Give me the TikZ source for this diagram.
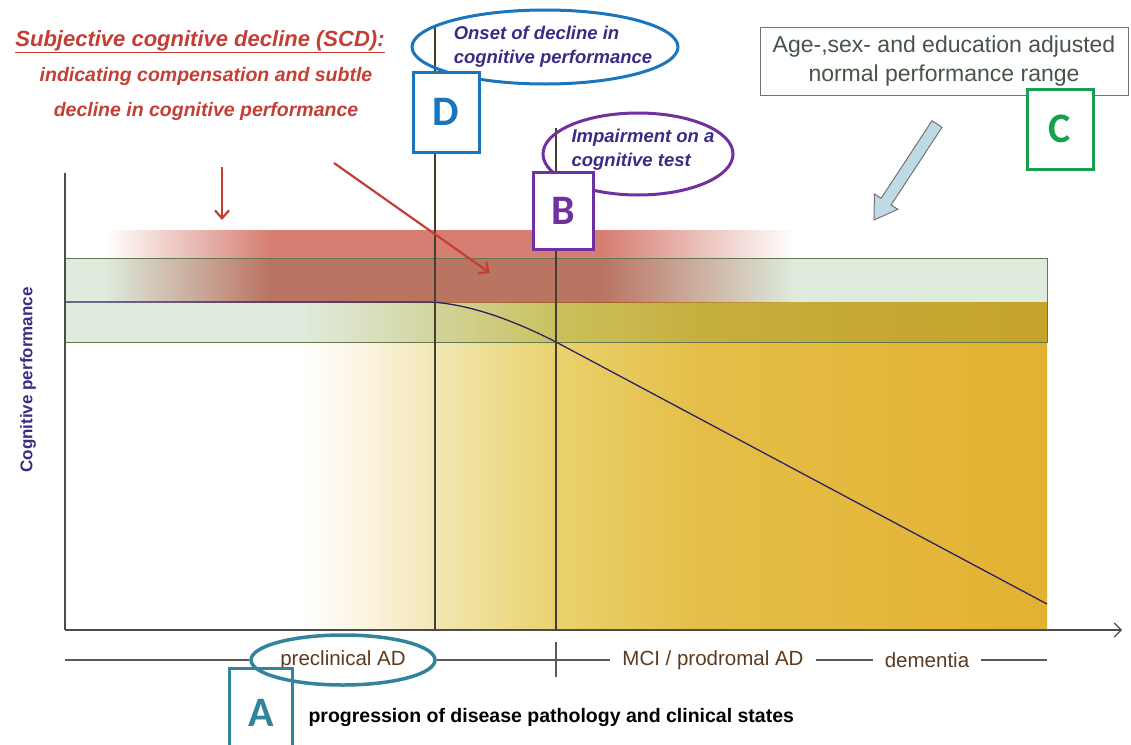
\documentclass[tikz,border=0pt]{standalone}
\usepackage{fontspec}
\setmainfont{Liberation Sans}
\newfontfamily\letterfont{Carlito}
\usetikzlibrary{shapes.geometric,arrows.meta}

\definecolor{scdred}{RGB}{196,62,52}
\definecolor{perfblue}{RGB}{58,44,132}
\definecolor{boxblue}{RGB}{27,117,188}
\definecolor{boxpurple}{RGB}{112,48,160}
\definecolor{boxgreen}{RGB}{22,160,80}
\definecolor{boxteal}{RGB}{49,132,155}
\definecolor{stagebrown}{RGB}{92,58,30}
\definecolor{rangegray}{RGB}{70,85,70}
\definecolor{bandgreen}{RGB}{222,235,221}
\definecolor{bandedge}{RGB}{100,120,80}
\definecolor{redband}{RGB}{214,126,114}
\definecolor{goldfaint}{RGB}{251,243,221}
\definecolor{goldpale}{RGB}{241,230,176}
\definecolor{goldlight}{RGB}{233,210,108}
\definecolor{goldmid}{RGB}{229,190,72}
\definecolor{golddark}{RGB}{226,178,50}
\definecolor{arrowblue}{RGB}{190,218,228}

\pgfdeclarehorizontalshading{goldshade}{100bp}{color(0bp)=(white); color(25bp)=(white); color(29.7bp)=(goldfaint); color(34.4bp)=(goldpale); color(42.1bp)=(goldlight); color(51.8bp)=(goldmid); color(75bp)=(golddark); color(100bp)=(golddark)}
\pgfdeclarehorizontalshading{redshade}{100bp}{color(0bp)=(white); color(25bp)=(white); color(37bp)=(redband); color(61bp)=(redband); color(75bp)=(white); color(100bp)=(white)}

\begin{document}
\begin{tikzpicture}[x=1pt, y=-1pt,
    letterbox/.style={draw, line width=3pt, fill=white, inner sep=0pt, minimum width=66pt, minimum height=80pt, font=\letterfont\bfseries\fontsize{42}{42}\selectfont},
    ring/.style={ellipse, draw, line width=3pt, inner sep=0pt},
    ringtext/.style={align=left, text=perfblue, inner sep=0pt, font=\bfseries\itshape\fontsize{18.5}{24}\selectfont},
    stagetext/.style={text=stagebrown, inner xsep=12pt, font=\fontsize{20.5}{20.5}\selectfont},
    stageline/.style={draw=black!65, line width=1.2pt},
    scdarrow/.style={draw=scdred, line width=2.2pt, -{Straight Barb[length=8pt, width=14pt]}},
    axisline/.style={draw=black!70, line width=1.2pt},
    guideline/.style={draw=black!70!olive, line width=1.2pt}]
    \useasboundingbox (0,0) rectangle (1131,744);

    % Draw shaded regions
    \shade[shading=goldshade] (300,302) rectangle (1047,630);
    \begin{scope}[blend mode=multiply]
        \fill[bandgreen] (65,258) rectangle (1047,342);
        \shade[shading=redshade] (105,230) rectangle (795,302);
    \end{scope}
    \draw[bandedge, line width=1pt] (65,258) rectangle (1047,342);

    % Draw performance curve
    \draw[draw=perfblue!75!black, line width=1.3pt] (65,302) -- (430,302)
        .. controls (470,304) and (515,321) .. (556,342) -- (1047,604);

    % Draw axes
    \coordinate (origin) at (65,630);
    \coordinate (ytop) at (65,173);
    \coordinate (xend) at (1122,630);
    \draw[axisline] (ytop) -- (origin);
    \draw[axisline, -{Straight Barb[length=7pt, width=14pt]}] (origin) -- (xend);
    \node[rotate=90, text=perfblue, font=\bfseries\fontsize{17}{17}\selectfont] (ylabel) at (28,380) {Cognitive performance};

    % Draw onset and impairment lines
    \coordinate (onsettop) at (435,25);
    \coordinate (onsetbase) at (435,630);
    \coordinate (impairtop) at (556,128);
    \coordinate (impairbase) at (556,630);
    \draw[guideline] (onsettop) -- (onsetbase);
    \draw[guideline] (impairtop) -- (impairbase);

    % Labels D and B
    \node[ring, draw=boxblue, minimum width=266pt, minimum height=74pt] (onsetring) at (545,47) {};
    \node[ringtext] (onset) at (553,47) {Onset of decline in\\cognitive performance};
    \node[letterbox, draw=boxblue, text=boxblue] (boxD) at (446,112) {D};
    \node[ring, draw=boxpurple, minimum width=190pt, minimum height=82pt] (impairring) at (638,154) {};
    \node[ringtext] (impair) at (643,150) {Impairment on a\\cognitive test};
    \node[letterbox, draw=boxpurple, text=boxpurple, minimum width=60pt, minimum height=77pt] (boxB) at (563,211) {B};

    % Label C
    \node[draw=rangegray!80, fill=white, line width=1pt, minimum width=368pt, minimum height=68pt, align=center, text=rangegray, font=\fontsize{23}{29}\selectfont] (normrange) at (944,61) {Age-,sex- and education adjusted\\normal performance range};
    \node[letterbox, draw=boxgreen, text=boxgreen] (boxC) at (1060,129) {C};
    \filldraw[fill=arrowblue, draw=black!55, line width=1pt] (942.0,127.3) -- (891.1,204.9) -- (897.8,209.3) -- (874,220)
        -- (874.4,193.9) -- (881.1,198.3) -- (932.0,120.7) -- cycle;

    % SCD text and arrows
    \node[text=scdred, font=\bfseries\itshape\fontsize{22}{22}\selectfont] (scdtitle) at (200,42) {\underline{Subjective cognitive decline (SCD):}};
    \node[text=scdred, align=center, font=\bfseries\itshape\fontsize{19.5}{35}\selectfont] (scdbody) at (206,94) {indicating compensation and subtle\\decline in cognitive performance};
    \coordinate (downfrom) at (222,167);
    \coordinate (downto) at (222,220);
    \coordinate (slantfrom) at (334,163);
    \coordinate (slantto) at (490,273);
    \draw[scdarrow] (downfrom) -- (downto);
    \draw[scdarrow] (slantfrom) -- (slantto);

    % Timeline of clinical states
    \coordinate (tlstart) at (65,660);
    \coordinate (tlend) at (1047,660);
    \node[ring, draw=boxteal, line width=3.5pt, minimum width=184pt, minimum height=50pt] (preclinring) at (343,660) {};
    \node[stagetext] (preclin) at (343,660) {preclinical AD};
    \node[stagetext] (mci) at (713,660) {MCI / prodromal AD};
    \node[stagetext] (dem) at (927,660) {dementia};
    \draw[stageline] (tlstart) -- (preclinring.west);
    \draw[stageline] (preclinring.east) -- (mci.west);
    \draw[stageline] (mci.east) -- (dem.west);
    \draw[stageline] (dem.east) -- (tlend);
    \draw[stageline] (556,642) -- (556,677);

    % Label A
    \node[letterbox, draw=boxteal, text=boxteal, fill=none, minimum width=63pt, minimum height=90pt] (boxA) at (261,713) {A};
    \node[anchor=west, font=\bfseries\fontsize{19.5}{19.5}\selectfont] (progress) at (305,717) {progression of disease pathology and clinical states};
\end{tikzpicture}
\end{document}
